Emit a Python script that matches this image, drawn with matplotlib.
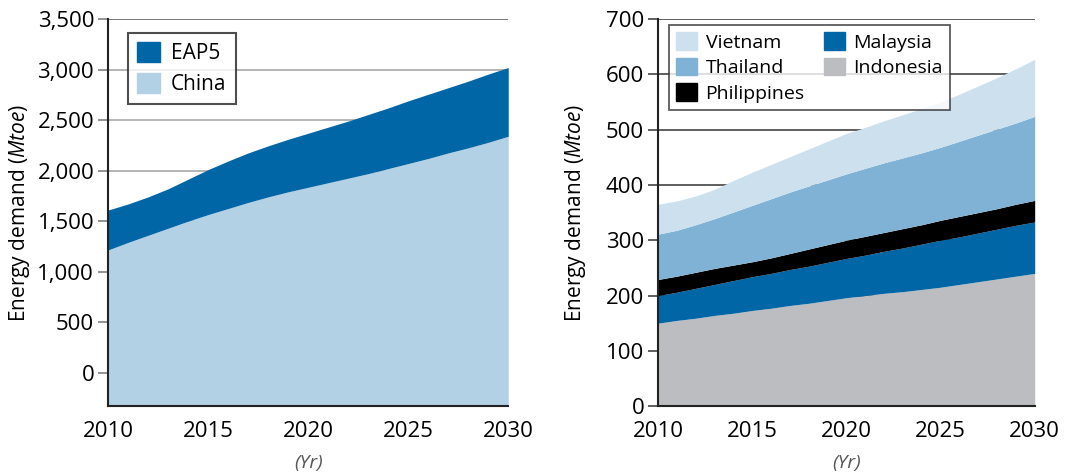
import matplotlib
matplotlib.use("Agg")
import matplotlib.pyplot as plt
from matplotlib.patches import Patch
from matplotlib.ticker import FuncFormatter

plt.rcParams['font.family'] = ['Open Sans', 'DejaVu Sans']
plt.rcParams['mathtext.fontset'] = 'custom'
plt.rcParams['mathtext.it'] = 'Open Sans:italic'
plt.rcParams['mathtext.rm'] = 'Open Sans'

years = list(range(2010, 2031))

# Left chart (cumulative top values)
china = [1215, 1290, 1360, 1430, 1500, 1565, 1625, 1685, 1740, 1790, 1835,
         1880, 1925, 1970, 2020, 2070, 2120, 2175, 2225, 2280, 2340]
eap5_total = [1610, 1670, 1740, 1820, 1915, 2010, 2095, 2175, 2245, 2310, 2370,
              2430, 2490, 2555, 2620, 2690, 2755, 2820, 2885, 2955, 3020]

# Right chart (cumulative top values)
indonesia = [150, 155, 159, 164, 168, 173, 177, 182, 186, 191, 196,
             200, 204, 207, 211, 215, 220, 225, 230, 235, 240]
malaysia_top = [200, 206, 213, 220, 227, 234, 240, 247, 253, 260, 267,
                273, 280, 286, 293, 300, 306, 313, 320, 327, 333]
philippines_top = [229, 235, 242, 249, 255, 261, 268, 276, 284, 292, 300,
                   307, 314, 321, 328, 336, 343, 350, 357, 365, 372]
thailand_top = [311, 318, 328, 339, 351, 363, 375, 387, 398, 409, 420,
                430, 440, 449, 458, 468, 479, 490, 501, 512, 524]
vietnam_top = [365, 371, 380, 392, 408, 423, 437, 451, 465, 479, 493,
               504, 516, 527, 538, 550, 564, 579, 594, 610, 627]

c_eap5 = '#0066a6'
c_china = '#b3d1e5'
c_vietnam = '#cce0ed'
c_thailand = '#7fb2d5'
c_malaysia = '#0066a6'
c_indonesia = '#bbbdc0'
c_phil = '#000000'

fig = plt.figure(figsize=(10.7, 4.75), dpi=100)
axL = fig.add_axes([0.101, 0.145, 0.374, 0.815])
axR = fig.add_axes([0.615, 0.145, 0.352, 0.815])

tick_fs = 16
ylabel_txt = "Energy demand $\\mathit{(Mtoe)}$"

# ---- Left
yminL = -330
axL.set_xlim(2010, 2030)
axL.set_ylim(yminL, 3500)
axL.fill_between(years, yminL, china, color=c_china, lw=0, zorder=2)
axL.fill_between(years, china, eap5_total, color=c_eap5, lw=0, zorder=2)
axL.set_yticks(range(0, 3501, 500))
axL.yaxis.set_major_formatter(FuncFormatter(lambda v, p: f"{int(v):,}"))
for v in range(500, 3501, 500):
    axL.axhline(v, color='#555555' if v == 3500 else '#a0a0a0', lw=1.1, zorder=1)
axL.tick_params(axis='y', direction='out', length=7, width=1.1, color='#777777',
                labelsize=tick_fs, pad=3)
legL = axL.legend(handles=[Patch(color=c_eap5, label='EAP5'),
                           Patch(color=c_china, label='China')],
                  loc='upper left', bbox_to_anchor=(0.05, 0.964), borderaxespad=0,
                  fontsize=15,
                  frameon=True, fancybox=False, edgecolor='#222222',
                  handlelength=1.1, handleheight=1.1, borderpad=0.45,
                  labelspacing=0.4, handletextpad=0.5)
legL.get_frame().set_linewidth(1.5)
legL.set_zorder(5)

# ---- Right
axR.set_xlim(2010, 2030)
axR.set_ylim(0, 700)
axR.fill_between(years, 0, indonesia, color=c_indonesia, lw=0, zorder=2)
axR.fill_between(years, indonesia, malaysia_top, color=c_malaysia, lw=0, zorder=2)
axR.fill_between(years, malaysia_top, philippines_top, color=c_phil, lw=0, zorder=2)
axR.fill_between(years, philippines_top, thailand_top, color=c_thailand, lw=0, zorder=2)
axR.fill_between(years, thailand_top, vietnam_top, color=c_vietnam, lw=0, zorder=2)
axR.set_yticks(range(0, 701, 100))
for v in range(100, 701, 100):
    axR.axhline(v, color='#333333', lw=1.1, zorder=1)
axR.tick_params(axis='y', direction='out', length=7, width=1.1, color='#333333',
                labelsize=tick_fs, pad=3)
legR = axR.legend(handles=[Patch(color=c_vietnam, label='Vietnam'),
                           Patch(color=c_thailand, label='Thailand'),
                           Patch(color=c_phil, label='Philippines'),
                           Patch(color=c_malaysia, label='Malaysia'),
                           Patch(color=c_indonesia, label='Indonesia')],
                  ncol=2, loc='upper left', bbox_to_anchor=(0.029, 0.985), borderaxespad=0,
                  fontsize=14,
                  frameon=True, fancybox=False, edgecolor='#333333',
                  handlelength=1.05, handleheight=1.0, borderpad=0.38,
                  labelspacing=0.32, handletextpad=0.45, columnspacing=1.0)
legR.get_frame().set_linewidth(1.3)
legR.set_zorder(5)

for ax in (axL, axR):
    ax.set_xticks([2010, 2015, 2020, 2025, 2030])
    ax.tick_params(axis='x', length=0, labelsize=tick_fs, pad=11)
    for s in ('top', 'right'):
        ax.spines[s].set_visible(False)
    for s in ('left', 'bottom'):
        ax.spines[s].set_linewidth(1.5)
        ax.spines[s].set_color('#222222')
        ax.spines[s].set_zorder(4)
    ax.set_xlabel('(Yr)', fontsize=14, style='italic', color='#555555', labelpad=8)
    ax.set_ylabel(ylabel_txt, fontsize=15)

axL.yaxis.set_label_coords(-0.19, 0.5)
axR.yaxis.set_label_coords(-0.185, 0.5)

fig.savefig('out.png', dpi=100)
